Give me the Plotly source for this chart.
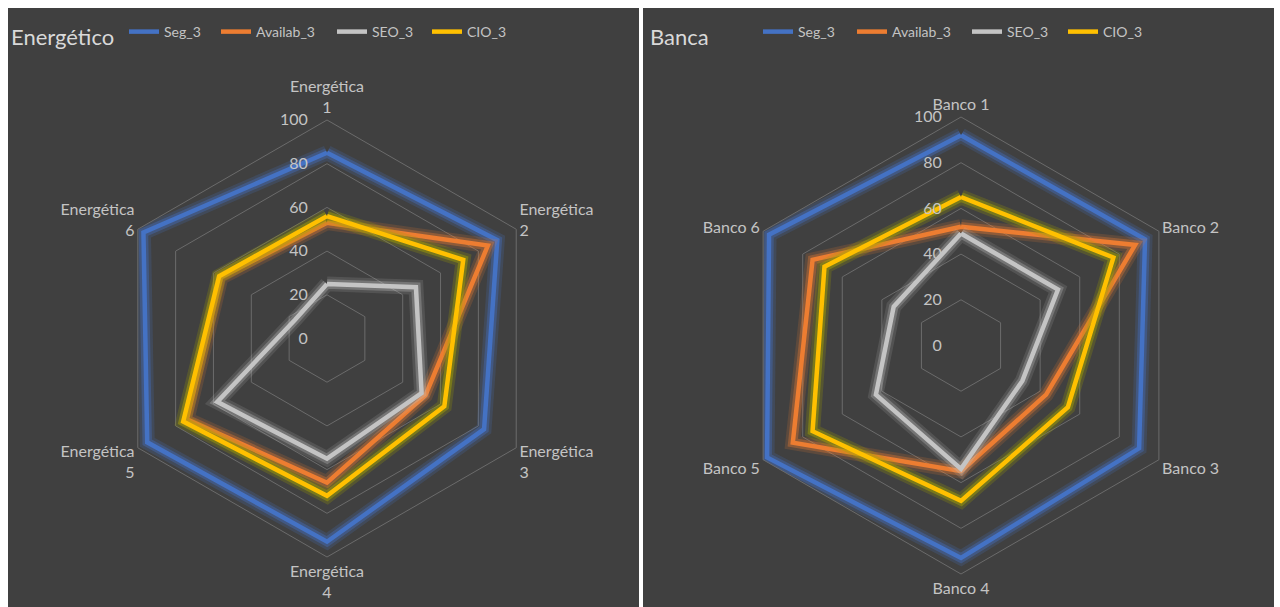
import plotly.graph_objects as go

# Categories for each panel
cats_energia = ["Energética<br>1", "Energética<br>2", "Energética<br>3",
                "Energética<br>4", "Energética<br>5", "Energética<br>6"]
cats_banca = ["Banco 1", "Banco 2", "Banco 3", "Banco 4", "Banco 5", "Banco 6"]

# Series values – Energético
seg_energia = [85, 90, 83, 93, 95, 97]
avail_energia = [53, 85, 52, 66, 74, 56]
seo_energia = [25, 47, 50, 55, 58, 17]
cio_energia = [56, 72, 62, 72, 76, 57]

# Series values – Banca
seg_banca = [92, 93, 90, 93, 98, 97]
avail_banca = [52, 88, 43, 55, 85, 75]
seo_banca = [49, 49, 31, 54, 43, 34]
cio_banca = [65, 77, 54, 68, 75, 69]

series_names = ["Seg_3", "Availab_3", "SEO_3", "CIO_3"]
line_colors = ["#4472C4", "#ED7D31", "#C4C4C4", "#FFC000"]
glow_outer = ["rgba(68,114,196,0.20)", "rgba(237,125,49,0.17)",
              "rgba(196,196,196,0.15)", "rgba(160,160,0,0.24)"]
glow_inner = ["rgba(68,114,196,0.38)", "rgba(237,125,49,0.34)",
              "rgba(196,196,196,0.30)", "rgba(170,170,0,0.42)"]

W, H = 1280, 607
BG = "#404040"
GRID = "#6b6b6b"
TXT = "#C4C4C4"
FONT = "Lato"

fig = go.Figure()


def closed(vals, cats):
    return list(vals) + [vals[0]], list(cats) + [cats[0]]


def add_panel(polar_id, cats, data, legend_ids):
    for i, vals in enumerate(data):
        r, th = closed(vals, cats)
        # soft glow beneath each line
        for col, wd in ((glow_outer[i], 15), (glow_inner[i], 9.5)):
            fig.add_trace(go.Scatterpolar(
                r=r, theta=th, mode="lines", subplot=polar_id,
                line=dict(color=col, width=wd),
                hoverinfo="skip", showlegend=False))
        fig.add_trace(go.Scatterpolar(
            r=r, theta=th, mode="lines", subplot=polar_id,
            name=series_names[i], legend=legend_ids[i],
            line=dict(color=line_colors[i], width=4.5)))


add_panel("polar", cats_energia,
          [seg_energia, avail_energia, seo_energia, cio_energia],
          ["legend", "legend2", "legend3", "legend4"])
add_panel("polar2", cats_banca,
          [seg_banca, avail_banca, seo_banca, cio_banca],
          ["legend5", "legend6", "legend7", "legend8"])


def polar_layout(cx, cy, rad):
    return dict(
        domain=dict(x=[(cx - rad) / W, (cx + rad) / W],
                    y=[(H - cy - rad) / H, (H - cy + rad) / H]),
        bgcolor="rgba(0,0,0,0)",
        gridshape="linear",
        angularaxis=dict(rotation=90, direction="clockwise",
                         showgrid=False, showline=True, linecolor=GRID,
                         linewidth=1, ticks="",
                         tickfont=dict(family=FONT, size=16, color=TXT)),
        radialaxis=dict(range=[0, 100], dtick=20, angle=90, tickangle=90,
                        side="counterclockwise",
                        ticksuffix="\u00a0" * 4,
                        showline=False, ticks="",
                        gridcolor=GRID, gridwidth=1,
                        tickfont=dict(family=FONT, size=16, color=TXT)),
    )


# panel backgrounds
shapes = [
    dict(type="rect", xref="paper", yref="paper", x0=8 / W, x1=639 / W,
         y0=0, y1=(H - 8) / H, fillcolor=BG, line=dict(width=0), layer="below"),
    dict(type="rect", xref="paper", yref="paper", x0=643 / W, x1=1274 / W,
         y0=0, y1=(H - 8) / H, fillcolor=BG, line=dict(width=0), layer="below"),
]

# one-entry legends placed along the top of each panel
legend_x = [132, 224, 340, 435, 766, 860, 975, 1071]
legends = {}
for k, x in enumerate(legend_x):
    key = "legend" if k == 0 else f"legend{k + 1}"
    legends[key] = dict(x=(x - 8) / W, xanchor="left",
                        y=(H - 32) / H, yanchor="middle",
                        orientation="h", bgcolor="rgba(0,0,0,0)",
                        borderwidth=0, itemwidth=30,
                        font=dict(family=FONT, size=14, color=TXT))

annotations = [
    dict(text="Energético", x=9 / W, y=(H - 37) / H, xref="paper", yref="paper",
         xanchor="left", yanchor="middle", showarrow=False,
         font=dict(family=FONT, size=22, color="#D9D9D9")),
    dict(text="Banca", x=648 / W, y=(H - 37) / H, xref="paper", yref="paper",
         xanchor="left", yanchor="middle", showarrow=False,
         font=dict(family=FONT, size=22, color="#D9D9D9")),
]

fig.update_layout(
    width=W, height=H,
    margin=dict(l=0, r=0, t=0, b=0),
    paper_bgcolor="#FFFFFF",
    plot_bgcolor="#FFFFFF",
    polar=polar_layout(327, 338.5, 218.5),
    polar2=polar_layout(961, 345.5, 228.5),
    shapes=shapes,
    annotations=annotations,
    **legends,
)

fig.write_html("out.html")
